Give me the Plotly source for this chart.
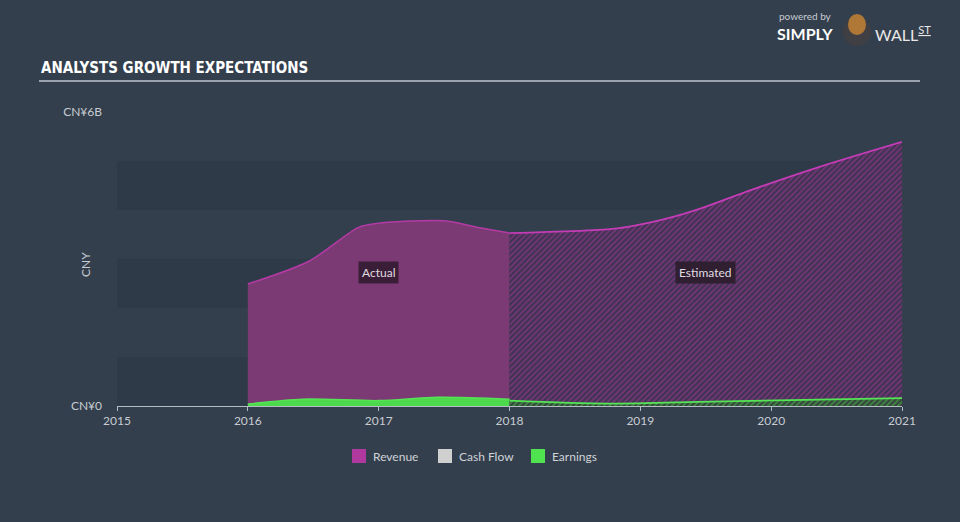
import plotly.graph_objects as go

# ---- data (CNY billions) ----
rev_actual_x = [2016.0, 2016.47, 2016.85, 2017.0, 2017.5, 2017.75, 2018.0]
rev_actual_y = [2.49, 2.96, 3.65, 3.73, 3.78, 3.65, 3.53]
rev_est_x = [2018.0, 2018.84, 2019.22, 2019.47, 2019.85, 2020.37, 2021.0]
rev_est_y = [3.53, 3.63, 3.84, 4.04, 4.41, 4.88, 5.39]

earn_actual_x = [2016.0, 2016.42, 2017.0, 2017.45, 2018.0]
earn_actual_y = [0.04, 0.14, 0.11, 0.18, 0.14]
earn_est_x = [2018.0, 2018.75, 2019.55, 2021.0]
earn_est_y = [0.11, 0.05, 0.09, 0.16]

year_ticks = [2015, 2016, 2017, 2018, 2019, 2020, 2021]
year_labels = ["2015", "2016", "2017", "2018", "2019", "2020", "2021"]
y_tickvals = [0, 6]
y_ticktext = ["CN¥0", "CN¥6B"]
legend_names = ["Revenue", "Cash Flow", "Earnings"]
legend_colors = ["#b0399f", "#d0d0d0", "#4fe34f"]

BG = "#333f4d"
BAND = "#2e3a47"
FONT = "Lato, 'Open Sans', sans-serif"

# plot area in pixels
L, R, T, B = 117, 902, 112, 406
W, H = 960, 522


def px2x(px):
    return (px - L) / (R - L)


def py2y(py):
    return (B - py) / (B - T)


fig = go.Figure()

# Revenue actual
fig.add_trace(go.Scatter(
    x=rev_actual_x, y=rev_actual_y, mode="lines", fill="tozeroy",
    line=dict(color="#b43aa6", width=1.5, shape="spline", smoothing=0.8),
    fillcolor="#7b3a74", showlegend=False, hoverinfo="skip"))
# Revenue estimated (hatched)
fig.add_trace(go.Scatter(
    x=rev_est_x, y=rev_est_y, mode="lines", fill="tozeroy",
    line=dict(color="#c53cb7", width=1.8, shape="spline", smoothing=0.8),
    fillcolor="#3d3350",
    fillpattern=dict(shape="/", fgcolor="#a6389a", bgcolor="#3d3350",
                     size=4, solidity=0.5),
    showlegend=False, hoverinfo="skip"))
# Earnings actual
fig.add_trace(go.Scatter(
    x=earn_actual_x, y=earn_actual_y, mode="lines", fill="tozeroy",
    line=dict(color="#55e455", width=1.5, shape="spline", smoothing=0.8),
    fillcolor="#4cd94c", showlegend=False, hoverinfo="skip"))
# Earnings estimated (hatched)
fig.add_trace(go.Scatter(
    x=earn_est_x, y=earn_est_y, mode="lines", fill="tozeroy",
    line=dict(color="#55e455", width=1.8, shape="spline", smoothing=0.8),
    fillcolor="#34403c",
    fillpattern=dict(shape="/", fgcolor="#4cc94c", bgcolor="#34403c",
                     size=4, solidity=0.5),
    showlegend=False, hoverinfo="skip"))

shapes = []
# horizontal bands
for y0 in [0, 2, 4]:
    shapes.append(dict(type="rect", xref="x", yref="y", x0=2015, x1=2021,
                       y0=y0, y1=y0 + 1, fillcolor=BAND, line_width=0,
                       layer="below"))
# title underline
shapes.append(dict(type="line", xref="paper", yref="paper",
                   x0=px2x(39), x1=px2x(920), y0=py2y(81), y1=py2y(81),
                   line=dict(color="#9aa3ad", width=2)))
# logo emblem
shapes.append(dict(type="circle", xref="paper", yref="paper",
                   x0=px2x(843), x1=px2x(871), y0=py2y(46), y1=py2y(18),
                   fillcolor="#3f3f44", line_width=0))
shapes.append(dict(type="circle", xref="paper", yref="paper",
                   x0=px2x(848), x1=px2x(866), y0=py2y(35), y1=py2y(14),
                   fillcolor="#b07836", line_width=0))

annotations = [
    dict(text="ANALYSTS GROWTH EXPECTATIONS", xref="paper", yref="paper",
         x=px2x(39), y=py2y(68), xanchor="left", yanchor="middle",
         showarrow=False,
         font=dict(family="'DejaVu Sans Condensed', sans-serif",
                   size=15, color="#ffffff", weight="bold")),
    dict(text="CNY", xref="paper", yref="paper", x=px2x(85), y=py2y(265),
         textangle=-90, showarrow=False, xanchor="center", yanchor="middle",
         font=dict(family=FONT, size=12, color="#c8ccd2")),
    dict(text="Actual", x=2017.0, y=(B - 272) / 49, xref="x", yref="y",
         showarrow=False, bgcolor="#3a1e38", borderpad=3,
         font=dict(family=FONT, size=12, color="#e0dde0")),
    dict(text="Estimated", x=2019.5, y=(B - 272) / 49, xref="x", yref="y",
         showarrow=False, bgcolor="#2f1f30", borderpad=3,
         font=dict(family=FONT, size=12, color="#e0dde0")),
    dict(text="powered by", xref="paper", yref="paper", x=px2x(777),
         y=py2y(16), xanchor="left", yanchor="middle", showarrow=False,
         font=dict(family=FONT, size=10, color="#c8ccd2")),
    dict(text="<b>SIMPLY</b>", xref="paper", yref="paper", x=px2x(775),
         y=py2y(33), xanchor="left", yanchor="middle", showarrow=False,
         font=dict(family=FONT, size=16, color="#ffffff")),
    dict(text="WALL<sup><u>ST</u></sup>", xref="paper", yref="paper",
         x=px2x(873), y=py2y(33), xanchor="left", yanchor="middle",
         showarrow=False,
         font=dict(family=FONT, size=16, color="#e8e8e8")),
]

# manual legend (swatch + label)
legend_px = [352, 438, 531]
for name, col, lx in zip(legend_names, legend_colors, legend_px):
    shapes.append(dict(type="rect", xref="paper", yref="paper",
                       x0=px2x(lx), x1=px2x(lx + 14),
                       y0=py2y(463), y1=py2y(449),
                       fillcolor=col, line_width=0))
    annotations.append(dict(text=name, xref="paper", yref="paper",
                            x=px2x(lx + 19), y=py2y(456), xanchor="left",
                            yanchor="middle", showarrow=False,
                            font=dict(family=FONT, size=12, color="#d0d3d8")))

fig.update_layout(
    width=W, height=H,
    margin=dict(l=L, r=W - R, t=T, b=H - B, pad=0),
    paper_bgcolor=BG, plot_bgcolor=BG,
    font=dict(family=FONT, color="#c8ccd2", size=12),
    shapes=shapes, annotations=annotations,
    showlegend=False,
    xaxis=dict(range=[2015, 2021], tickvals=year_ticks, ticktext=year_labels,
               showgrid=False, zeroline=False, showline=True,
               linecolor="#b4bcc4", linewidth=1, ticks="outside",
               ticklen=4, tickcolor="#b4bcc4",
               tickfont=dict(family=FONT, size=12, color="#c8ccd2")),
    yaxis=dict(range=[0, 6], tickvals=y_tickvals, ticktext=y_ticktext,
               showgrid=False, zeroline=False, showline=False, ticks="",
               ticklabelstandoff=14,
               tickfont=dict(family=FONT, size=12, color="#c8ccd2")),
)

fig.write_html("out.html")
